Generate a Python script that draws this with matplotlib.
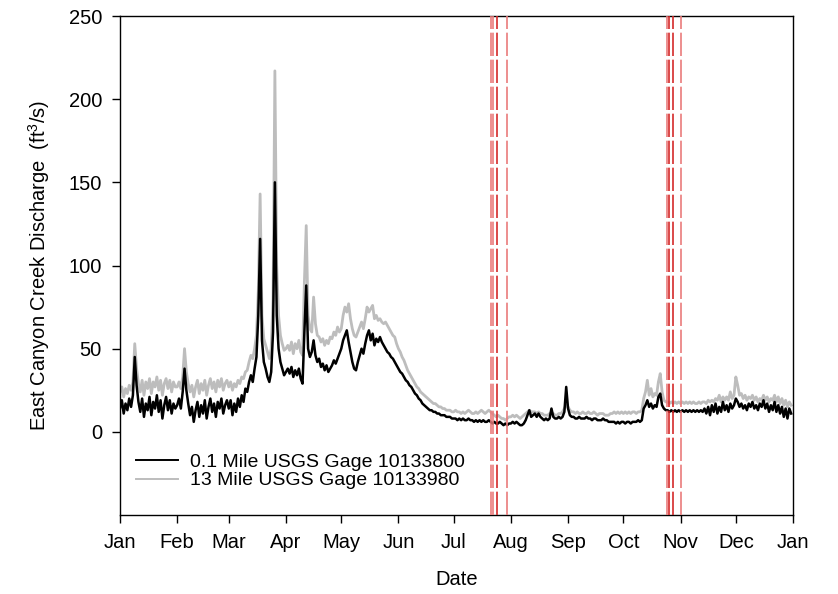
import numpy as np
import matplotlib
matplotlib.use("Agg")
import matplotlib.pyplot as plt

plt.rcParams['font.family'] = ['Liberation Sans', 'DejaVu Sans']
plt.rcParams['mathtext.fontset'] = 'custom'
plt.rcParams['mathtext.rm'] = 'Liberation Sans'
plt.rcParams['mathtext.it'] = 'Liberation Sans'

# ---- data (daily values, day-of-year 0..364) ----
black_jan = [14, 19, 11, 17, 13, 20, 15, 22, 45, 28, 18, 12, 20, 9, 17, 13, 21, 10, 18, 14, 22, 12, 19, 8, 16, 21, 13, 19, 11, 17, 14]
gray_jan = [24, 27, 21, 26, 23, 28, 25, 30, 53, 38, 29, 24, 31, 22, 30, 26, 32, 23, 30, 27, 33, 25, 31, 22, 29, 32, 26, 31, 24, 30, 27]
black_feb = [16, 20, 14, 24, 38, 25, 17, 10, 15, 6, 13, 18, 9, 16, 11, 19, 8, 15, 20, 12, 17, 9, 18, 14, 20, 11, 16, 19]
gray_feb = [27, 30, 26, 33, 50, 36, 29, 24, 28, 21, 27, 31, 23, 29, 25, 31, 22, 28, 32, 26, 30, 24, 31, 27, 32, 25, 29, 31]
black_mar = [14, 19, 10, 17, 12, 20, 15, 22, 18, 26, 24, 30, 34, 30, 38, 45, 70, 116, 55, 42, 38, 33, 30, 36, 60, 150, 70, 50, 42, 38, 34]
gray_mar = [27, 30, 25, 29, 27, 31, 29, 33, 32, 36, 37, 42, 46, 44, 50, 58, 85, 143, 70, 56, 52, 48, 44, 50, 80, 217, 100, 70, 58, 53, 49]
black_apr = [36, 38, 35, 39, 33, 37, 34, 38, 32, 29, 60, 88, 50, 45, 48, 55, 46, 42, 44, 39, 41, 37, 40, 36, 38, 40, 43, 41, 44, 47]
gray_apr = [50, 52, 49, 54, 47, 53, 50, 55, 48, 46, 90, 124, 70, 62, 60, 81, 65, 58, 57, 54, 56, 52, 55, 53, 57, 56, 60, 58, 63, 60]
black_may = [50, 55, 58, 61, 54, 48, 42, 38, 37, 42, 46, 50, 47, 53, 58, 61, 55, 59, 52, 56, 54, 57, 54, 52, 50, 48, 47, 45, 44, 42, 40]
gray_may = [62, 70, 75, 72, 77, 68, 62, 58, 57, 60, 63, 66, 62, 68, 75, 72, 74, 76, 68, 70, 67, 68, 66, 65, 66, 64, 62, 60, 58, 57, 53]
black_jun = [38, 36, 35, 33, 31, 30, 28, 27, 25, 23, 22, 20, 19, 17, 16, 15, 14, 13, 13, 12, 12, 11, 11, 10, 10, 10, 9, 9, 9, 8]
gray_jun = [50, 48, 45, 43, 40, 37, 35, 33, 31, 29, 27, 26, 24, 23, 22, 21, 20, 19, 18, 17, 17, 16, 15, 15, 14, 14, 13, 13, 13, 12]
black_jul = [8, 8, 7, 8, 7, 8, 7, 7, 8, 7, 7, 6, 7, 6, 7, 6, 7, 6, 6, 7, 6, 5, 6, 5, 5, 6, 5, 4, 5, 4, 5]
gray_jul = [12, 13, 12, 12, 11, 12, 11, 12, 13, 12, 11, 11, 12, 11, 12, 13, 12, 11, 12, 13, 12, 11, 10, 9, 10, 9, 8, 8, 7, 8, 9]
black_aug = [5, 6, 5, 6, 5, 4, 4, 5, 7, 10, 13, 9, 10, 11, 9, 11, 9, 8, 7, 8, 7, 8, 14, 9, 8, 8, 9, 8, 9, 12, 27]
gray_aug = [9, 10, 9, 10, 9, 8, 9, 10, 11, 12, 13, 12, 12, 12, 11, 12, 11, 11, 10, 10, 10, 11, 11, 11, 10, 10, 11, 11, 12, 14, 16]
black_sep = [14, 10, 9, 9, 8, 8, 9, 8, 8, 8, 9, 8, 8, 7, 8, 8, 7, 7, 7, 8, 7, 7, 6, 6, 6, 6, 5, 6, 5, 6]
gray_sep = [15, 13, 12, 12, 11, 12, 11, 11, 12, 11, 11, 12, 11, 11, 12, 11, 10, 11, 11, 11, 10, 10, 10, 11, 11, 12, 11, 12, 11, 12]
black_oct = [6, 5, 6, 6, 5, 6, 6, 6, 7, 6, 7, 14, 16, 19, 15, 17, 14, 16, 15, 21, 23, 16, 14, 13, 13, 12, 13, 12, 13, 12, 13]
gray_oct = [11, 12, 11, 12, 11, 12, 12, 11, 12, 12, 13, 20, 24, 31, 22, 26, 21, 23, 22, 30, 35, 24, 19, 18, 18, 17, 18, 17, 18, 17, 18]
black_nov = [12, 13, 12, 13, 12, 13, 12, 13, 12, 13, 12, 13, 12, 14, 11, 15, 10, 16, 12, 17, 11, 15, 12, 18, 13, 16, 12, 17, 14, 16]
gray_nov = [17, 18, 17, 18, 17, 18, 17, 18, 17, 17, 18, 17, 18, 18, 17, 19, 18, 19, 18, 20, 19, 22, 18, 21, 19, 21, 19, 24, 20, 22]
black_dec = [20, 18, 15, 17, 14, 16, 13, 17, 15, 18, 14, 16, 13, 17, 15, 19, 14, 17, 12, 16, 13, 18, 12, 16, 11, 15, 9, 14, 8, 14, 11]
gray_dec = [33, 28, 22, 23, 20, 22, 19, 21, 20, 22, 19, 21, 18, 20, 19, 22, 19, 21, 18, 20, 19, 22, 18, 21, 17, 20, 16, 19, 15, 18, 16]

month_labels = ['Jan', 'Feb', 'Mar', 'Apr', 'May', 'Jun', 'Jul', 'Aug', 'Sep', 'Oct', 'Nov', 'Dec', 'Jan']
month_starts = [0, 31, 59, 90, 120, 151, 181, 212, 243, 273, 304, 334, 365]

# sampling event lines (day of year)
event_days_light = [201.4, 202.4, 209.9, 296.6, 304.2]
event_days_dark = [204.6, 297.7, 300.0]

label_black = '0.1 Mile USGS Gage 10133800'
label_gray = '13 Mile USGS Gage 10133980'

black_q = np.array(black_jan + black_feb + black_mar + black_apr + black_may + black_jun +
                   black_jul + black_aug + black_sep + black_oct + black_nov + black_dec, dtype=float)
gray_q = np.array(gray_jan + gray_feb + gray_mar + gray_apr + gray_may + gray_jun +
                  gray_jul + gray_aug + gray_sep + gray_oct + gray_nov + gray_dec, dtype=float)
days = np.arange(len(black_q))

fig = plt.figure(figsize=(8.38, 5.94), dpi=100)
ax = fig.add_axes([120/838, 1-515/594, (793-120)/838, (515-16)/594])

lg, = ax.plot(days, gray_q, color='#bdbdbd', lw=2.0, label=label_gray, zorder=2)
lb, = ax.plot(days, black_q, color='black', lw=1.8, label=label_black, zorder=3)

for d in event_days_light:
    ax.axvline(d, color='#ea7c7c', lw=1.2, dashes=(14, 2.2), zorder=4)
for d in event_days_dark:
    ax.axvline(d, color='#d42a2a', lw=1.2, dashes=(14, 2.2), zorder=4)

ax.set_xlim(0, 365)
ax.set_ylim(-50, 250)
ax.set_xticks(month_starts)
ax.set_xticklabels(month_labels)
ax.set_yticks([0, 50, 100, 150, 200, 250])
ax.tick_params(direction='out', length=6, width=1, labelsize=14.5, pad=7)
for s in ax.spines.values():
    s.set_linewidth(1.0)

ax.set_xlabel('Date', fontsize=14.5, labelpad=13)
ax.set_ylabel('East Canyon Creek Discharge  (ft$^3$/s)', fontsize=14.5, labelpad=12)

leg = ax.legend(handles=[lb, lg], loc='lower left', frameon=False, fontsize=14,
                handlelength=2.2, handletextpad=0.6, borderaxespad=0.4, labelspacing=0.05,
                bbox_to_anchor=(0.0, 0.02))
for h in leg.legend_handles:
    h.set_linewidth(1.4)

fig.savefig('out.png', dpi=100)
